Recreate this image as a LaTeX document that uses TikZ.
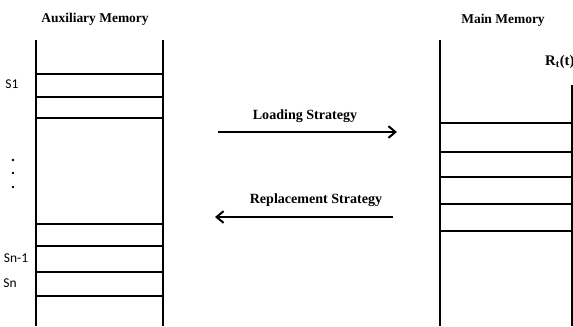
\documentclass[tikz,border=0pt]{standalone}
\usepackage{fontspec}
\setmainfont{Liberation Serif}
\newfontfamily\slotfont{Carlito}
\usetikzlibrary{arrows.meta,positioning}

\begin{document}
\begin{tikzpicture}[x=0.03cm, y=-0.03cm]

% Define styles
\tikzstyle{title} = [font=\fontsize{11.5}{13}\selectfont\bfseries, inner sep=0pt]
\tikzstyle{slot} = [font=\fontsize{11.5}{13}\slotfont, inner sep=0pt]
\tikzstyle{wall} = [line width=2.2pt]
\tikzstyle{cell} = [line width=1.8pt]
\tikzstyle{arrow} = [line width=1.8pt, -{Straight Barb[length=6pt, width=10pt, line width=1.7pt]}]

\useasboundingbox (0,0) rectangle (573,326);

% Nodes
\node [title] (aux) at (95,19) {Auxiliary Memory};
\node [title] (main) at (503,20) {Main Memory};
\node [title, font=\fontsize{12.5}{14}\selectfont\bfseries, anchor=west] (rt) at (545,62) {R\textsubscript{t}(t)};

\node [slot] (s1) at (12,84) {S1};
\node [slot] (sn1) at (16,258) {Sn-1};
\node [slot] (sn) at (10,283) {Sn};
\foreach \y/\name in {160/d1, 173/d2, 187/d3}
  \node [circle, fill, inner sep=0pt, minimum size=2.4pt] (\name) at (13,\y) {};

% Auxiliary memory column
\draw [wall] (36,40) -- (36,326);
\draw [wall] (163,40) -- (163,326);
\foreach \y in {74,97,118,224,246,272,296}
  \draw [cell] (36,\y) -- (162,\y);

% Main memory column
\draw [wall] (440,40) -- (440,326);
\draw [line width=1pt] (572,85) -- (572,326);
\foreach \y in {123,152,177,204,231}
  \draw [cell] (440,\y) -- (573,\y);

% Arrows
\coordinate (load_a) at (218,132);
\coordinate (load_b) at (397,132);
\coordinate (repl_a) at (393,217);
\coordinate (repl_b) at (215,217);

\draw [arrow] (load_a) -- (load_b);
\draw [arrow] (repl_a) -- (repl_b);

\node [title, font=\fontsize{12}{14}\selectfont\bfseries] (load) at (305,116) {Loading Strategy};
\node [title, font=\fontsize{12}{14}\selectfont\bfseries] (repl) at (316,200) {Replacement Strategy};

\end{tikzpicture}
\end{document}
